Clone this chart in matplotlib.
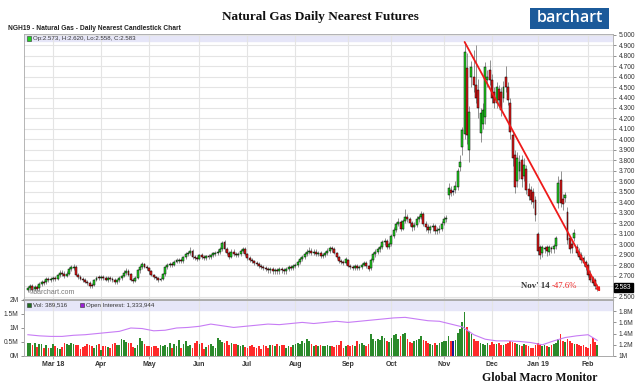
import matplotlib
matplotlib.use('Agg')
import matplotlib.pyplot as plt
from matplotlib.patches import Rectangle
import numpy as np
import pandas as pd

# trading days shown on the chart (NYMEX holidays removed)
start_date = '2018-02-13'
end_date = '2019-02-07'
holidays = ['2018-02-19', '2018-03-30', '2018-05-28', '2018-07-04',
            '2018-09-03', '2018-11-22', '2018-12-25', '2019-01-01']
month_labels = ['Mar 18', 'Apr', 'May', 'Jun', 'Jul', 'Aug', 'Sep', 'Oct',
                'Nov', 'Dec', 'Jan 19', 'Feb']

opens = [
    2.56, 2.58, 2.60, 2.57, 2.59, 2.58, 2.62, 2.64, 2.64, 2.67,
    2.66, 2.67, 2.68, 2.67, 2.71, 2.73, 2.72, 2.70, 2.72, 2.76,
    2.77, 2.78, 2.71, 2.69, 2.67, 2.66, 2.64, 2.63, 2.61, 2.61,
    2.66, 2.69, 2.68, 2.69, 2.68, 2.66, 2.68, 2.67, 2.66, 2.64,
    2.66, 2.68, 2.70, 2.73, 2.74, 2.72, 2.66, 2.65, 2.68, 2.75,
    2.78, 2.81, 2.78, 2.77, 2.74, 2.71, 2.69, 2.68, 2.66, 2.67,
    2.72, 2.78, 2.80, 2.81, 2.80, 2.83, 2.84, 2.85, 2.84, 2.88,
    2.91, 2.92, 2.94, 2.88, 2.87, 2.86, 2.90, 2.88, 2.87, 2.89,
    2.88, 2.90, 2.91, 2.92, 2.93, 2.95, 3.02, 2.95, 2.92, 2.88,
    2.93, 2.91, 2.90, 2.91, 2.94, 2.95, 2.91, 2.87, 2.85, 2.84,
    2.82, 2.81, 2.79, 2.78, 2.77, 2.76, 2.75, 2.76, 2.74, 2.75,
    2.74, 2.76, 2.75, 2.74, 2.76, 2.78, 2.77, 2.79, 2.80, 2.83,
    2.86, 2.88, 2.91, 2.93, 2.94, 2.92, 2.93, 2.91, 2.92, 2.89,
    2.90, 2.92, 2.94, 2.96, 2.95, 2.92, 2.88, 2.84, 2.83, 2.82,
    2.85, 2.79, 2.78, 2.77, 2.79, 2.77, 2.78, 2.80, 2.82, 2.79,
    2.77, 2.85, 2.91, 2.93, 2.95, 2.97, 3.02, 3.03, 2.97, 3.00,
    3.08, 3.14, 3.19, 3.21, 3.15, 3.22, 3.26, 3.24, 3.20, 3.16,
    3.18, 3.24, 3.26, 3.29, 3.19, 3.16, 3.14, 3.16, 3.17, 3.13,
    3.14, 3.15, 3.20, 3.24, 3.47, 3.52, 3.50, 3.52, 3.55, 3.74,
    3.93, 4.05, 4.68, 3.90, 4.60, 4.60, 4.52, 4.47, 4.06, 4.15,
    4.21, 4.57, 4.66, 4.57, 4.45, 4.35, 4.48, 4.45, 4.40, 4.60,
    4.50, 4.35, 4.04, 3.85, 3.60, 3.70, 3.80, 3.65, 3.72, 3.53,
    3.52, 3.50, 3.42, 3.10, 2.97, 2.92, 2.95, 2.97, 2.93, 2.96,
    2.95, 2.98, 3.39, 3.61, 3.43, 3.44, 3.31, 3.06, 3.00, 3.06,
    2.97, 2.93, 2.90, 2.87, 2.83, 2.80, 2.72, 2.68, 2.66, 2.573,
]
highs = [
    2.60, 2.62, 2.62, 2.61, 2.61, 2.64, 2.66, 2.66, 2.69, 2.69,
    2.69, 2.70, 2.70, 2.72, 2.75, 2.75, 2.74, 2.74, 2.78, 2.80,
    2.81, 2.80, 2.73, 2.71, 2.69, 2.68, 2.66, 2.65, 2.63, 2.67,
    2.70, 2.71, 2.71, 2.71, 2.70, 2.70, 2.70, 2.69, 2.68, 2.67,
    2.70, 2.71, 2.75, 2.77, 2.76, 2.73, 2.68, 2.70, 2.76, 2.80,
    2.83, 2.82, 2.80, 2.78, 2.75, 2.72, 2.70, 2.69, 2.69, 2.73,
    2.79, 2.82, 2.83, 2.83, 2.85, 2.87, 2.87, 2.87, 2.89, 2.93,
    2.94, 2.97, 2.95, 2.90, 2.89, 2.91, 2.92, 2.90, 2.90, 2.91,
    2.91, 2.93, 2.94, 2.95, 2.97, 3.03, 3.04, 2.97, 2.94, 2.95,
    2.95, 2.93, 2.93, 2.95, 2.97, 2.97, 2.92, 2.89, 2.87, 2.85,
    2.84, 2.83, 2.81, 2.80, 2.79, 2.78, 2.78, 2.78, 2.77, 2.77,
    2.78, 2.78, 2.77, 2.78, 2.80, 2.80, 2.81, 2.82, 2.85, 2.88,
    2.90, 2.93, 2.95, 2.97, 2.96, 2.95, 2.95, 2.94, 2.94, 2.92,
    2.94, 2.96, 2.98, 2.98, 2.97, 2.93, 2.89, 2.86, 2.85, 2.88,
    2.86, 2.81, 2.80, 2.81, 2.81, 2.80, 2.82, 2.84, 2.84, 2.80,
    2.87, 2.93, 2.95, 2.97, 2.99, 3.04, 3.06, 3.05, 3.02, 3.10,
    3.16, 3.21, 3.25, 3.23, 3.24, 3.34, 3.29, 3.26, 3.22, 3.21,
    3.27, 3.28, 3.32, 3.31, 3.22, 3.19, 3.18, 3.20, 3.19, 3.16,
    3.18, 3.22, 3.27, 3.28, 3.58, 3.56, 3.53, 3.60, 3.73, 3.85,
    4.12, 4.93, 4.82, 4.32, 4.75, 4.85, 4.90, 4.58, 4.30, 4.35,
    4.74, 4.66, 4.76, 4.62, 4.50, 4.55, 4.52, 4.50, 4.56, 4.70,
    4.55, 4.40, 4.08, 3.90, 3.88, 3.85, 3.85, 3.82, 3.76, 3.58,
    3.56, 3.54, 3.46, 3.12, 2.99, 2.99, 2.98, 2.99, 2.99, 2.98,
    3.00, 3.08, 3.65, 3.70, 3.48, 3.50, 3.36, 3.08, 3.05, 3.15,
    3.00, 2.96, 2.93, 2.89, 2.85, 2.82, 2.75, 2.70, 2.68, 2.620,
]
lows = [
    2.54, 2.56, 2.54, 2.55, 2.55, 2.56, 2.60, 2.61, 2.62, 2.64,
    2.64, 2.65, 2.65, 2.66, 2.69, 2.70, 2.68, 2.69, 2.71, 2.74,
    2.75, 2.70, 2.67, 2.66, 2.64, 2.63, 2.61, 2.58, 2.58, 2.60,
    2.65, 2.66, 2.66, 2.66, 2.65, 2.64, 2.65, 2.64, 2.62, 2.62,
    2.64, 2.66, 2.69, 2.71, 2.70, 2.65, 2.63, 2.64, 2.67, 2.73,
    2.76, 2.77, 2.75, 2.72, 2.70, 2.67, 2.66, 2.64, 2.65, 2.66,
    2.70, 2.76, 2.78, 2.78, 2.79, 2.82, 2.82, 2.82, 2.82, 2.86,
    2.89, 2.90, 2.86, 2.85, 2.84, 2.85, 2.86, 2.85, 2.85, 2.86,
    2.86, 2.88, 2.89, 2.90, 2.91, 2.94, 2.93, 2.90, 2.86, 2.87,
    2.89, 2.88, 2.88, 2.89, 2.92, 2.89, 2.85, 2.83, 2.82, 2.80,
    2.79, 2.77, 2.76, 2.75, 2.74, 2.73, 2.73, 2.72, 2.72, 2.72,
    2.72, 2.73, 2.72, 2.72, 2.74, 2.75, 2.75, 2.77, 2.78, 2.81,
    2.84, 2.86, 2.89, 2.91, 2.90, 2.90, 2.89, 2.89, 2.87, 2.87,
    2.88, 2.90, 2.92, 2.93, 2.91, 2.86, 2.82, 2.81, 2.80, 2.80,
    2.78, 2.76, 2.75, 2.75, 2.75, 2.75, 2.76, 2.79, 2.77, 2.74,
    2.75, 2.83, 2.88, 2.91, 2.93, 2.95, 2.99, 2.95, 2.95, 2.98,
    3.06, 3.12, 3.17, 3.13, 3.14, 3.20, 3.21, 3.17, 3.13, 3.14,
    3.16, 3.21, 3.24, 3.17, 3.13, 3.11, 3.11, 3.13, 3.10, 3.10,
    3.11, 3.13, 3.18, 3.21, 3.43, 3.46, 3.47, 3.49, 3.52, 3.70,
    3.85, 4.00, 3.96, 3.78, 4.50, 4.45, 4.35, 4.20, 3.98, 4.10,
    4.15, 4.50, 4.52, 4.35, 4.30, 4.30, 4.32, 4.22, 4.36, 4.45,
    4.33, 4.00, 3.75, 3.49, 3.55, 3.62, 3.55, 3.60, 3.48, 3.42,
    3.38, 3.35, 3.22, 2.90, 2.86, 2.88, 2.92, 2.89, 2.90, 2.92,
    2.92, 2.95, 3.35, 3.36, 3.33, 3.40, 3.00, 2.92, 2.92, 3.03,
    2.90, 2.86, 2.82, 2.79, 2.75, 2.69, 2.64, 2.61, 2.57, 2.558,
]
closes = [
    2.58, 2.60, 2.56, 2.59, 2.57, 2.62, 2.64, 2.63, 2.67, 2.66,
    2.67, 2.68, 2.67, 2.71, 2.73, 2.72, 2.70, 2.72, 2.76, 2.78,
    2.78, 2.71, 2.69, 2.67, 2.66, 2.64, 2.63, 2.60, 2.60, 2.66,
    2.68, 2.68, 2.69, 2.68, 2.66, 2.68, 2.67, 2.66, 2.64, 2.66,
    2.68, 2.70, 2.73, 2.74, 2.71, 2.66, 2.65, 2.68, 2.75, 2.78,
    2.81, 2.78, 2.77, 2.74, 2.71, 2.69, 2.68, 2.66, 2.67, 2.72,
    2.78, 2.80, 2.81, 2.80, 2.83, 2.85, 2.85, 2.84, 2.88, 2.91,
    2.92, 2.94, 2.88, 2.87, 2.86, 2.90, 2.88, 2.87, 2.89, 2.88,
    2.90, 2.92, 2.92, 2.93, 2.95, 3.01, 2.95, 2.92, 2.88, 2.93,
    2.91, 2.90, 2.91, 2.94, 2.95, 2.91, 2.87, 2.85, 2.84, 2.82,
    2.81, 2.79, 2.78, 2.77, 2.76, 2.75, 2.76, 2.74, 2.75, 2.74,
    2.76, 2.75, 2.74, 2.76, 2.78, 2.77, 2.79, 2.80, 2.83, 2.86,
    2.88, 2.91, 2.93, 2.94, 2.92, 2.93, 2.91, 2.92, 2.89, 2.90,
    2.92, 2.94, 2.96, 2.95, 2.92, 2.88, 2.84, 2.83, 2.82, 2.86,
    2.79, 2.78, 2.77, 2.79, 2.77, 2.78, 2.80, 2.82, 2.79, 2.76,
    2.85, 2.91, 2.93, 2.95, 2.97, 3.02, 3.03, 2.97, 3.00, 3.08,
    3.14, 3.19, 3.21, 3.15, 3.22, 3.26, 3.24, 3.20, 3.16, 3.18,
    3.24, 3.26, 3.29, 3.19, 3.16, 3.14, 3.16, 3.17, 3.13, 3.14,
    3.15, 3.19, 3.24, 3.25, 3.54, 3.49, 3.50, 3.56, 3.70, 3.78,
    4.09, 4.83, 4.04, 4.26, 4.69, 4.52, 4.40, 4.30, 4.25, 4.28,
    4.69, 4.60, 4.57, 4.40, 4.35, 4.50, 4.38, 4.28, 4.50, 4.50,
    4.38, 4.07, 3.82, 3.55, 3.82, 3.78, 3.62, 3.76, 3.52, 3.46,
    3.42, 3.40, 3.28, 2.94, 2.90, 2.97, 2.96, 2.94, 2.97, 2.95,
    2.98, 3.06, 3.58, 3.39, 3.38, 3.47, 3.04, 2.95, 2.96, 3.11,
    2.92, 2.88, 2.85, 2.82, 2.78, 2.71, 2.66, 2.63, 2.60, 2.583,
]
# daily volume, millions of contracts
volume = [
    0.45, 0.48, 0.38, 0.47, 0.33, 0.44, 0.42, 0.30, 0.40, 0.28,
    0.30, 0.42, 0.35, 0.30, 0.25, 0.32, 0.45, 0.44, 0.40, 0.46,
    0.42, 0.40, 0.38, 0.25, 0.32, 0.36, 0.43, 0.38, 0.35, 0.30,
    0.40, 0.42, 0.22, 0.36, 0.34, 0.33, 0.30, 0.42, 0.45, 0.40,
    0.38, 0.62, 0.58, 0.50, 0.46, 0.48, 0.32, 0.28, 0.38, 0.64,
    0.52, 0.44, 0.36, 0.36, 0.33, 0.35, 0.34, 0.30, 0.38, 0.34,
    0.40, 0.33, 0.46, 0.30, 0.42, 0.37, 0.58, 0.30, 0.42, 0.52,
    0.36, 0.38, 0.30, 0.48, 0.55, 0.44, 0.45, 0.26, 0.32, 0.40,
    0.44, 0.35, 0.30, 0.63, 0.58, 0.50, 0.46, 0.52, 0.38, 0.45,
    0.42, 0.43, 0.40, 0.36, 0.38, 0.32, 0.27, 0.35, 0.38, 0.32,
    0.30, 0.36, 0.25, 0.38, 0.36, 0.30, 0.40, 0.38, 0.36, 0.42,
    0.34, 0.38, 0.40, 0.30, 0.36, 0.32, 0.38, 0.44, 0.48, 0.42,
    0.55, 0.48, 0.60, 0.52, 0.44, 0.36, 0.40, 0.34, 0.38, 0.35,
    0.36, 0.38, 0.37, 0.34, 0.32, 0.38, 0.40, 0.52, 0.30, 0.36,
    0.40, 0.36, 0.38, 0.34, 0.52, 0.44, 0.46, 0.38, 0.36, 0.42,
    0.78, 0.62, 0.52, 0.60, 0.58, 0.72, 0.66, 0.55, 0.50, 0.64,
    0.74, 0.80, 0.62, 0.70, 0.80, 0.82, 0.62, 0.50, 0.48, 0.52,
    0.58, 0.62, 0.70, 0.58, 0.52, 0.46, 0.42, 0.40, 0.46, 0.38,
    0.45, 0.50, 0.55, 0.52, 0.70, 0.55, 0.52, 0.56, 0.82, 0.95,
    1.20, 1.58, 1.05, 0.90, 0.80, 0.62, 0.55, 0.52, 0.48, 0.42,
    0.38, 0.46, 0.40, 0.50, 0.44, 0.42, 0.48, 0.40, 0.38, 0.44,
    0.46, 0.52, 0.50, 0.48, 0.44, 0.40, 0.36, 0.42, 0.38, 0.34,
    0.30, 0.28, 0.40, 0.45, 0.40, 0.35, 0.38, 0.36, 0.32, 0.40,
    0.44, 0.48, 0.60, 0.78, 0.52, 0.50, 0.62, 0.55, 0.46, 0.44,
    0.42, 0.38, 0.35, 0.40, 0.32, 0.30, 0.42, 0.66, 0.50, 0.39,
]
# open interest (millions), read once a week
oi_day = [0, 5, 10, 15, 20, 25, 30, 35, 40, 45, 50, 55, 60, 65, 70, 75, 80,
          85, 90, 95, 100, 105, 110, 115, 120, 125, 130, 135, 140, 145, 150,
          155, 160, 165, 170, 175, 180, 185, 190, 195, 200, 205, 210, 215,
          220, 225, 230, 235, 240, 245, 249]
open_interest = [1.38, 1.36, 1.35, 1.35, 1.37, 1.38, 1.40, 1.42, 1.44, 1.50,
                 1.49, 1.45, 1.46, 1.50, 1.51, 1.53, 1.57, 1.54, 1.51, 1.53,
                 1.55, 1.57, 1.56, 1.58, 1.60, 1.58, 1.60, 1.62, 1.60, 1.62,
                 1.64, 1.66, 1.68, 1.69, 1.66, 1.63, 1.62, 1.57, 1.52, 1.38,
                 1.30, 1.27, 1.27, 1.26, 1.24, 1.20, 1.27, 1.33, 1.36, 1.38,
                 1.28]

# trend line from the Nov 14 high
trend_days = [191, 250.3]
trend_prices = [4.93, 2.545]

dates = pd.bdate_range(start_date, end_date, freq='C', holidays=holidays)
assert len(dates) == len(closes) == len(opens) == len(highs) == len(lows) == len(volume)

o = np.array(opens)
h = np.array(highs)
l = np.array(lows)
c = np.array(closes)
x = np.arange(len(c))
months = pd.Series(x, index=dates).groupby(dates.to_period('M')).first().values[1:]

W, H = 639, 386
fig = plt.figure(figsize=(W / 100, H / 100), dpi=100)


def fpos(px, py):
    return px / W, 1 - py / H


ax = fig.add_axes([24 / W, 1 - 300 / H, 589 / W, 266 / H])
axv = fig.add_axes([24 / W, 1 - 356 / H, 589 / W, 56 / H])
axo = axv.twinx()

xlim = (-1.7, 255.9)
sans = 'Liberation Sans'
serif = 'Liberation Serif'

# ---- price panel
green, red = '#22d322', '#e41a1a'
cols = np.where(c > o, green, np.where(c < o, red, '#1a1a99'))
ax.vlines(x, l, h, color='#666666', lw=0.5, zorder=2)
ax.bar(x, np.maximum(np.abs(c - o), 0.004), bottom=np.minimum(o, c), width=0.85,
       color=cols, edgecolor='black', linewidth=0.35, zorder=3)

ax.axhspan(4.94, 5.01, color='#e6e6f8', zorder=0.5)
ax.set_xlim(*xlim)
ax.set_ylim(2.468, 5.006)
price_ticks = np.arange(2.5, 5.001, 0.1)
ax.set_yticks(price_ticks)
# the 2.600 label sits under the last-price box, as on the original
ax.set_yticklabels(['' if abs(t - 2.6) < 1e-6 else '%.3f' % t for t in price_ticks],
                   family=sans)
ax.yaxis.tick_right()
ax.tick_params(axis='y', labelsize=4.8, labelcolor='#333333', color='#666666',
               length=2.5, width=0.5, pad=1.5)
ax.set_xticks(months)
ax.tick_params(axis='x', length=0, labelbottom=False)
ax.grid(True, color='#e4e4e4', lw=0.8, zorder=0)
ax.set_axisbelow(True)
for s in ['left', 'right', 'top']:
    ax.spines[s].set_color('#aaaaaa')
    ax.spines[s].set_linewidth(0.6)
ax.spines['bottom'].set_color('#b0b0b0')
ax.spines['bottom'].set_linewidth(1.6)

ax.annotate('', xy=(trend_days[1], trend_prices[1]),
            xytext=(trend_days[0], trend_prices[0]),
            arrowprops=dict(arrowstyle='-|>', color='#ee1a1a', lw=1.3,
                            mutation_scale=5, shrinkA=0, shrinkB=0), zorder=5)

ax.text(215.6, 2.604, "Nov' 14", family=serif, weight='bold', size=6.3,
        color='#333333', ha='left', va='center', zorder=6)
ax.text(229.1, 2.604, '-47.6%', family=serif, size=6.3,
        color='#ee2222', ha='left', va='center', zorder=6)
ax.text(1.0035, c[-1], '%.3f' % c[-1], transform=ax.get_yaxis_transform(),
        family=sans, size=4.8, color='white', ha='left', va='center', zorder=10,
        bbox=dict(boxstyle='square,pad=0.15', fc='black', ec='black'))

# ---- volume panel
vcols = np.where(c > o, '#2b8a2b', np.where(c < o, '#ff2a2a', '#1a1a99'))
axv.bar(x, volume, width=0.75, color=vcols, zorder=2)
axv.axhspan(1.66, 2.0, color='#e6e6f8', zorder=0.5)
axv.set_xlim(*xlim)
axv.set_ylim(0, 2.0)
axv.set_yticks([0, 0.5, 1, 1.5, 2])
axv.set_yticklabels(['0M', '0.5M', '1M', '1.5M', '2M'], family=sans)
axv.set_xticks(months)
axv.set_xticklabels(month_labels, family=sans, weight='bold')
axv.tick_params(axis='x', labelsize=5, labelcolor='#333333', length=2,
                width=0.5, color='#888888', pad=1.5)
axv.tick_params(axis='y', labelsize=4.8, labelcolor='#333333', color='#666666',
                length=2.5, width=0.5, pad=1.5)
axv.grid(axis='x', color='#e4e4e4', lw=0.8, zorder=0)
axv.set_axisbelow(True)

axo.plot(oi_day, open_interest, color='#c77cf5', lw=0.8, zorder=3)
axo.set_ylim(1.0, 2.0)
axo.set_yticks([1.0, 1.2, 1.4, 1.6, 1.8])
axo.set_yticklabels(['1M', '1.2M', '1.4M', '1.6M', '1.8M'], family=sans)
axo.tick_params(axis='y', labelsize=4.8, labelcolor='#333333', color='#666666',
                length=2.5, width=0.5, pad=1.5)
for a in (axv, axo):
    for s in a.spines.values():
        s.set_color('#aaaaaa')
        s.set_linewidth(0.6)

# ---- headers, legends, logo
fig.text(*fpos(320, 17), 'Natural Gas Daily Nearest Futures', ha='center',
         va='center', family=serif, weight='bold', size=9.5, color='#111111')
fig.text(*fpos(8, 28), 'NGH19 - Natural Gas - Daily Nearest Candlestick Chart',
         ha='left', va='center', family=sans, weight='bold', size=4.8, color='#222222')
fig.text(*fpos(598, 378), 'Global Macro Monitor', ha='right', va='center',
         family=serif, weight='bold', size=8.5, color='#111111')

fig.patches.append(Rectangle(fpos(530, 28.5), 79 / W, 20.5 / H,
                             transform=fig.transFigure, fc='#1b5a9a', ec='none'))
fig.text(*fpos(570, 18), 'barchart', ha='center', va='center', family='Open Sans',
         weight='semibold', size=11.5, color='white')

fig.patches.append(Rectangle(fpos(27, 40.5), 4 / W, 4 / H, transform=fig.transFigure,
                             fc='#22d322', ec='#333333', lw=0.4))
fig.text(*fpos(33, 38.3), 'Op:2.573, H:2.620, Lo:2.558, C:2.583', ha='left',
         va='center', family=sans, size=4.4, color='#333333')

fig.patches.append(Rectangle(fpos(27, 307), 4 / W, 4 / H, transform=fig.transFigure,
                             fc='#1f6f1f', ec='#333333', lw=0.4))
fig.text(*fpos(33, 305), 'Vol: 389,516', ha='left', va='center', family=sans,
         size=4.4, color='#333333')
fig.patches.append(Rectangle(fpos(80, 307), 4 / W, 4 / H, transform=fig.transFigure,
                             fc='#9b1fd6', ec='#333333', lw=0.4))
fig.text(*fpos(86, 305), 'Open Interest: 1,333,944', ha='left', va='center',
         family=sans, size=4.4, color='#333333')

fig.text(*fpos(29, 292), '\u00a9barchart.com', ha='left', va='center', family=sans,
         size=5, color='#777777')

fig.savefig('out.png', dpi=100)
